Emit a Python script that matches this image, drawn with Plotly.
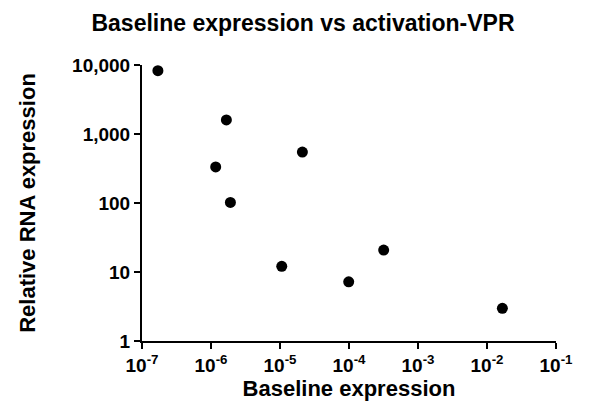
import plotly.graph_objects as go

# Data
baseline = [1.7e-7, 1.67e-6, 1.17e-6, 1.91e-6, 2.11e-5, 1.06e-5, 9.9e-5, 3.18e-4, 1.67e-2]
relative_rna = [8260, 1600, 333, 102, 548, 12.1, 7.2, 20.8, 2.98]

x_tickvals = [1e-7, 1e-6, 1e-5, 1e-4, 1e-3, 1e-2, 1e-1]
x_ticktext = ["10<sup>-7</sup>", "10<sup>-6</sup>", "10<sup>-5</sup>", "10<sup>-4</sup>",
              "10<sup>-3</sup>", "10<sup>-2</sup>", "10<sup>-1</sup>"]
y_tickvals = [1, 10, 100, 1000, 10000]
y_ticktext = ["1", "10", "100", "1,000", "10,000"]

FONT = "Liberation Sans, Arial, sans-serif"

fig = go.Figure()
fig.add_trace(go.Scatter(
    x=baseline, y=relative_rna, mode="markers",
    marker=dict(color="black", size=11, symbol="circle"),
    cliponaxis=False, showlegend=False,
))

fig.update_layout(
    width=600, height=407,
    margin=dict(l=142, r=44, t=65, b=66),
    paper_bgcolor="white", plot_bgcolor="white",
    font=dict(family=FONT, color="black"),
    title=dict(
        text="<b>Baseline expression vs activation-VPR</b>",
        font=dict(size=23, family=FONT, color="black"),
        xref="container", x=0.505, xanchor="center",
        yref="container", y=1 - 23 / 407, yanchor="middle",
    ),
)

fig.update_xaxes(
    type="log", range=[-7, -1], automargin=False,
    tickvals=x_tickvals, ticktext=x_ticktext,
    tickfont=dict(size=19, family=FONT, color="black", weight="bold"),
    ticks="outside", ticklen=6, tickwidth=2, tickcolor="black",
    showline=True, linewidth=2, linecolor="black",
    showgrid=False, zeroline=False,
    title=dict(text="<b>Baseline expression</b>", font=dict(size=22, family=FONT, color="black"),
               standoff=2),
)
fig.update_yaxes(
    type="log", range=[0, 4], automargin=False,
    tickvals=y_tickvals, ticktext=y_ticktext,
    tickfont=dict(size=19, family=FONT, color="black", weight="bold"),
    ticks="outside", ticklen=6, tickwidth=2, tickcolor="black",
    showline=True, linewidth=2, linecolor="black",
    showgrid=False, zeroline=False,
    title=dict(text="<b>Relative RNA expression</b>", font=dict(size=22, family=FONT, color="black"),
               standoff=30),
)

fig.write_html("out.html", config={"displayModeBar": False},
               post_script="document.body.style.margin='0';")
